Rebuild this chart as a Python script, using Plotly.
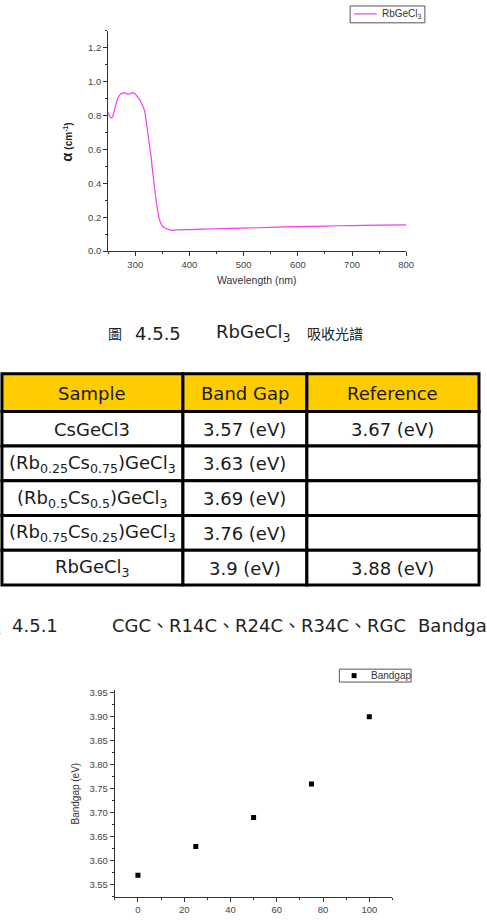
import plotly.graph_objects as go

W, H = 487, 922

# ---------- data ----------
wavelength = [250, 253, 256, 259, 263, 267, 271, 276, 280, 285, 290, 295, 299, 303, 308,
              313, 317, 320, 323, 326, 329, 332, 335, 338, 341, 344, 347, 351, 356, 362,
              368, 375, 400, 450, 500, 550, 600, 650, 700, 750, 800]
alpha = [0.82, 0.795, 0.784, 0.80, 0.85, 0.895, 0.92, 0.932, 0.935, 0.928, 0.927, 0.935, 0.93,
         0.915, 0.895, 0.86, 0.83, 0.77, 0.70, 0.63, 0.56, 0.47, 0.39, 0.31, 0.245, 0.195,
         0.165, 0.145, 0.135, 0.127, 0.123, 0.125, 0.127, 0.132, 0.136, 0.14, 0.145, 0.148,
         0.151, 0.153, 0.155]

rb_content = [0, 25, 50, 75, 100]
bandgap = [3.57, 3.63, 3.69, 3.76, 3.90]

table_header = ["Sample", "Band Gap", "Reference"]
table_sample = ["CsGeCl3",
                "(Rb<sub>0.25</sub>Cs<sub>0.75</sub>)GeCl<sub>3</sub>",
                "(Rb<sub>0.5</sub>Cs<sub>0.5</sub>)GeCl<sub>3</sub>",
                "(Rb<sub>0.75</sub>Cs<sub>0.25</sub>)GeCl<sub>3</sub>",
                "RbGeCl<sub>3</sub>"]
table_gap = ["3.57 (eV)", "3.63 (eV)", "3.69 (eV)", "3.76 (eV)", "3.9 (eV)"]
table_ref = ["3.67 (eV)", "", "", "", "3.88 (eV)"]

# ---------- layout constants (pixels) ----------
COL_EDGES = [2, 186, 312, 487]
ROW_EDGES = [374, 412, 447, 482, 517, 552, 587]


def px_x(p):
    return p / W


def px_y(p):
    return 1 - p / H


fig = go.Figure()

fig.add_trace(go.Scatter(
    x=wavelength, y=alpha, mode="lines", name="RbGeCl<sub>3</sub>",
    line=dict(color="#f040f0", width=1.2, shape="spline", smoothing=0.5),
    xaxis="x", yaxis="y", showlegend=False))

fig.add_trace(go.Scatter(
    x=rb_content, y=bandgap, mode="markers", name="Bandgap",
    marker=dict(symbol="square", size=5, color="black"),
    xaxis="x2", yaxis="y2", showlegend=False))

tickfont = dict(family="Liberation Sans, Arial", size=9.5, color="#444444")
axis_common = dict(showline=True, linecolor="#333333", linewidth=1, ticks="outside",
                   ticklen=4, tickcolor="#333333", tickfont=tickfont, showgrid=False,
                   zeroline=False, mirror=False)

fig.update_layout(
    width=W, height=H, margin=dict(l=0, r=0, t=0, b=0),
    paper_bgcolor="white", plot_bgcolor="white", showlegend=False,
    xaxis=dict(domain=[px_x(110), px_x(413)], range=[250, 800], tick0=0, dtick=100,
               anchor="y", minor=dict(dtick=50, ticks="outside", ticklen=2, tickcolor="#333333"),
               **axis_common),
    yaxis=dict(domain=[px_y(250.3), px_y(28)], range=[0, 1.3], tick0=0, dtick=0.2,
               tickformat=".1f", anchor="x",
               minor=dict(dtick=0.1, ticks="outside", ticklen=2, tickcolor="#333333"),
               **axis_common),
    xaxis2=dict(domain=[px_x(116.7), px_x(399)], range=[-10, 110], tick0=0, dtick=20,
                anchor="y2", minor=dict(dtick=10, ticks="outside", ticklen=2, tickcolor="#333333"),
                **axis_common),
    yaxis2=dict(domain=[px_y(901.7), px_y(693.3)], range=[3.525, 3.955], tick0=3.55,
                dtick=0.05, tickformat=".2f", anchor="x2",
                minor=dict(dtick=0.025, ticks="outside", ticklen=2, tickcolor="#333333"),
                **axis_common),
)

shapes = []
annos = []

# ---------- table ----------
columns = [table_sample, table_gap, table_ref]
tfont = dict(family="DejaVu Sans", size=18, color="#1a1a1a")
n_rows = len(table_sample) + 1
for r in range(n_rows):
    y0, y1 = ROW_EDGES[r], ROW_EDGES[r + 1]
    for c in range(3):
        x0, x1 = COL_EDGES[c], COL_EDGES[c + 1]
        txt = table_header[c] if r == 0 else columns[c][r - 1]
        shapes.append(dict(type="rect", xref="paper", yref="paper",
                           x0=px_x(x0), x1=px_x(x1), y0=px_y(y1), y1=px_y(y0),
                           fillcolor="#ffcc00" if r == 0 else "white",
                           line=dict(color="black", width=3), layer="above"))
        if txt:
            annos.append(dict(x=px_x((x0 + x1) / 2), y=px_y((y0 + y1) / 2 + 0.5), text=txt,
                              font=tfont))

# ---------- hand-drawn legends ----------
shapes.append(dict(type="rect", xref="paper", yref="paper",
                   x0=px_x(356), x1=px_x(432), y0=px_y(20), y1=px_y(3),
                   fillcolor="white", line=dict(color="#555555", width=1)))
shapes.append(dict(type="line", xref="paper", yref="paper",
                   x0=px_x(360), x1=px_x(383), y0=px_y(11), y1=px_y(11),
                   line=dict(color="#f040f0", width=1.2)))
annos.append(dict(x=px_x(386), y=px_y(11.5), text="RbGeCl<sub>3</sub>", xanchor="left",
                  font=dict(family="Liberation Sans, Arial", size=10, color="#333333")))
shapes.append(dict(type="rect", xref="paper", yref="paper",
                   x0=px_x(345), x1=px_x(418), y0=px_y(685), y1=px_y(672),
                   fillcolor="white", line=dict(color="#555555", width=1)))
shapes.append(dict(type="rect", xref="paper", yref="paper",
                   x0=px_x(357.5), x1=px_x(362.5), y0=px_y(681), y1=px_y(676),
                   fillcolor="black", line=dict(color="black", width=0)))
annos.append(dict(x=px_x(375), y=px_y(678.5), text="Bandgap", xanchor="left",
                  font=dict(family="Liberation Sans, Arial", size=10, color="#333333")))

annos += [
    dict(x=px_x(68), y=px_y(140), text="<b><span style='font-size:15px'>α</span> (cm<sup>-1</sup>)</b>",
         textangle=-90, font=dict(family="Liberation Sans, Arial", size=10, color="#222222")),
    dict(x=px_x(261.5), y=px_y(279), text="Wavelength (nm)",
         font=dict(family="Liberation Sans, Arial", size=10.5, color="#333333")),
    dict(x=px_x(76.7), y=px_y(797), text="Bandgap (eV)", textangle=-90,
         font=dict(family="Liberation Sans, Arial", size=10, color="#333333")),
    dict(x=px_x(117), y=px_y(333), text="圖",
         font=dict(family="Noto Sans CJK TC", size=14, color="#222222")),
    dict(x=px_x(135), y=px_y(333), text="4.5.5", xanchor="left",
         font=dict(family="DejaVu Sans", size=18, color="#222222")),
    dict(x=px_x(218), y=px_y(333), text="RbGeCl<sub>3</sub>", xanchor="left",
         font=dict(family="DejaVu Sans", size=18, color="#222222")),
    dict(x=px_x(310), y=px_y(333), text="吸收光譜", xanchor="left",
         font=dict(family="Noto Sans CJK TC", size=14, color="#222222")),
    dict(x=px_x(3), y=px_y(628), text="表", xanchor="right",
         font=dict(family="Noto Sans CJK TC", size=16, color="#222222")),
    dict(x=px_x(10), y=px_y(628), text="4.5.1", xanchor="left",
         font=dict(family="DejaVu Sans", size=18, color="#222222")),
    dict(x=px_x(111.7), y=px_y(628), text="CGC、R14C、R24C、R34C、RGC", xanchor="left",
         font=dict(family="DejaVu Sans, Noto Sans CJK TC", size=18, color="#222222")),
    dict(x=px_x(422.7), y=px_y(628), text="Bandgap 值", xanchor="left",
         font=dict(family="DejaVu Sans, Noto Sans CJK TC", size=18, color="#222222")),
]
for a in annos:
    a.setdefault("xref", "paper")
    a.setdefault("yref", "paper")
    a.setdefault("showarrow", False)
    a.setdefault("xanchor", "center")
    a.setdefault("yanchor", "middle")
fig.update_layout(annotations=annos, shapes=shapes)

fig.write_html("out.html")
